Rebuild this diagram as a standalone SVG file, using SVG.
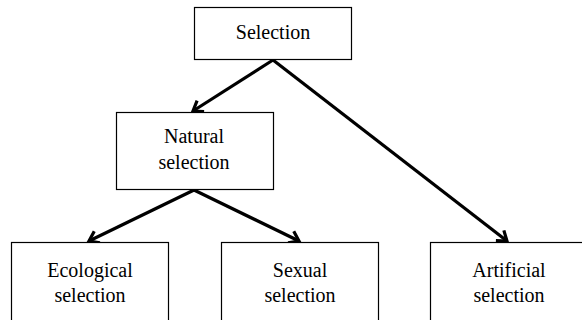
<svg xmlns="http://www.w3.org/2000/svg" width="582" height="320" viewBox="0 0 582 320">
<style>
rect.box{fill:#fff;stroke:#000;stroke-width:1.2}
text{font-family:'Liberation Serif','DejaVu Serif',serif;font-size:20px;fill:#000;text-anchor:middle}
.conn line{stroke:#000;stroke-width:3.2;fill:none}
</style>
<defs>
<marker id="arr" markerUnits="userSpaceOnUse" markerWidth="16" markerHeight="16" refX="13" refY="8" orient="auto">
<path d="M4,1.5 L13,8 L4,14.5" fill="none" stroke="#000" stroke-width="3.2"/>
</marker>
</defs>
<rect width="582" height="320" fill="#fff"/>
<g class="conn">
<line x1="273" y1="60" x2="193" y2="111" marker-end="url(#arr)"/>
<line x1="273" y1="60" x2="507" y2="241" marker-end="url(#arr)"/>
<line x1="194" y1="190" x2="89" y2="241" marker-end="url(#arr)"/>
<line x1="194" y1="190" x2="299" y2="241" marker-end="url(#arr)"/>
</g>
<g id="selection">
<rect class="box" x="194.5" y="7.5" width="157" height="52"/>
<text x="273" y="39" font-family="Liberation Serif, serif">Selection</text>
</g>
<g id="natural">
<rect class="box" x="116.5" y="112.5" width="157" height="77"/>
<text x="194" y="143" font-family="Liberation Serif, serif">Natural</text>
<text x="194" y="169" font-family="Liberation Serif, serif">selection</text>
</g>
<g id="ecological">
<rect class="box" x="11.5" y="242.5" width="157" height="90"/>
<text x="90" y="277" font-family="Liberation Serif, serif">Ecological</text>
<text x="90" y="302" font-family="Liberation Serif, serif">selection</text>
</g>
<g id="sexual">
<rect class="box" x="221.5" y="242.5" width="157" height="90"/>
<text x="300" y="277" font-family="Liberation Serif, serif">Sexual</text>
<text x="300" y="302" font-family="Liberation Serif, serif">selection</text>
</g>
<g id="artificial">
<rect class="box" x="430.5" y="242.5" width="157" height="90"/>
<text x="509" y="277" font-family="Liberation Serif, serif">Artificial</text>
<text x="509" y="302" font-family="Liberation Serif, serif">selection</text>
</g>
</svg>
